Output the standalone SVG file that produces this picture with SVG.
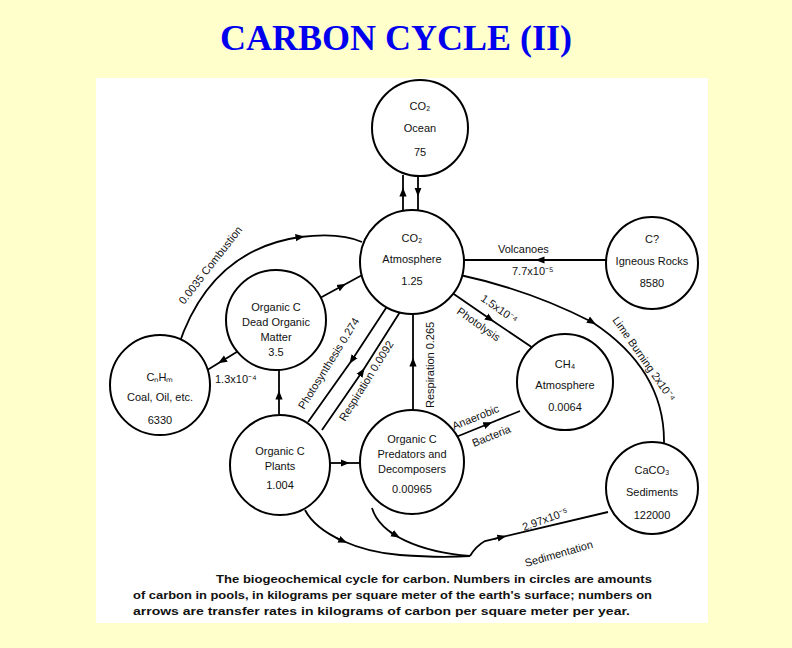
<svg xmlns="http://www.w3.org/2000/svg" width="792" height="648" viewBox="0 0 792 648">
<style>
.n{fill:#fff;stroke:#000;stroke-width:2}
.t{font-family:"Liberation Sans",Arial,sans-serif;font-size:11px;text-anchor:middle;fill:#111}
.l{font-family:"Liberation Sans",Arial,sans-serif;font-size:11px;fill:#111}
.c{fill:none;stroke:#000;stroke-width:1.8}
.cap{font-family:"Liberation Sans",Arial,sans-serif;font-size:10.5px;font-weight:bold;fill:#111}
</style>
<defs><marker id="a" viewBox="0 0 10 10" refX="5" refY="5" markerWidth="5" markerHeight="5" orient="auto"><path d="M0,1 L10,5 L0,9 z" fill="#000"/></marker></defs>
<rect width="792" height="648" fill="#FFFFCC"/>
<rect x="96" y="78" width="612" height="545" fill="#fff"/>
<text x="396" y="50" font-family="Liberation Serif,serif" font-size="36" font-weight="bold" fill="#0000EE" text-anchor="middle">CARBON CYCLE (II)</text>
<g id="connectors">
<path class="c" d="M403,210 L403,192 L403,175" marker-mid="url(#a)"/>
<path class="c" d="M418,175 L418,192 L418,210" marker-mid="url(#a)"/>
<path class="c" d="M178,347 Q210,250 300,237 Q340,232 362,242" marker-mid="url(#a)"/>
<path class="c" d="M320,298 L342,286 L364,274" marker-mid="url(#a)"/>
<path class="c" d="M240,350 L222,361 L204,372" marker-mid="url(#a)"/>
<path class="c" d="M279,414 L279,395 L279,370" marker-mid="url(#a)"/>
<path class="c" d="M388,305 L352,360 L308,422" marker-mid="url(#a)"/>
<path class="c" d="M322,430 L362,372 L400,312" marker-mid="url(#a)"/>
<path class="c" d="M413,410 L413,362 L413,314" marker-mid="url(#a)"/>
<path class="c" d="M330,463 L345,463 L360,463" marker-mid="url(#a)"/>
<path class="c" d="M606,260 L540,260 L463,260" marker-mid="url(#a)"/>
<path class="c" d="M448,290 L490,319 L533,348" marker-mid="url(#a)"/>
<path class="c" d="M460,275 Q530,290 592,322 Q665,370 664,443" marker-mid="url(#a)"/>
<path class="c" d="M456,437 L488,424 L520,411" marker-mid="url(#a)"/>
<path class="c" d="M305,510 C318,535 360,552 400,555 Q440,558 470,556"/>
<path class="c" d="M336,538 L343,541" marker-end="url(#a)"/>
<path class="c" d="M372,508 C380,535 420,552 470,556"/>
<path class="c" d="M390,532 L396,535.5" marker-end="url(#a)"/>
<path class="c" d="M470,556 Q476,546 485,541 L608,512"/>
<path class="c" d="M494,539 L502,537" marker-end="url(#a)"/>
</g>
<g id="labels">
<text class="l" transform="translate(184,305) rotate(-52)">0.0035 Combustion</text>
<text class="l" x="215" y="383">1.3x10⁻⁴</text>
<text class="l" transform="translate(304,410) rotate(-58)">Photosynthesis 0.274</text>
<text class="l" transform="translate(345,422) rotate(-58)">Respiration 0.0092</text>
<text class="l" transform="translate(434,408) rotate(-90)">Respiration 0.265</text>
<text class="l" x="498" y="253">Volcanoes</text>
<text class="l" x="512" y="275">7.7x10⁻⁵</text>
<text class="l" transform="translate(480,300) rotate(35)">1.5x10⁻⁴</text>
<text class="l" transform="translate(456,313) rotate(35)">Photolysis</text>
<text class="l" transform="translate(612,320) rotate(55)">Lime Burning 2x10⁻⁴</text>
<text class="l" transform="translate(454,430) rotate(-22)">Anaerobic</text>
<text class="l" transform="translate(474,447) rotate(-22)">Bacteria</text>
<text class="l" transform="translate(524,531) rotate(-20)">2.97x10⁻⁵</text>
<text class="l" transform="translate(526,567) rotate(-16)">Sedimentation</text>
</g>
<g id="ocean"><circle class="n" cx="420" cy="128" r="48"/><text class="t" x="420" y="110">CO₂</text><text class="t" x="420" y="132">Ocean</text><text class="t" x="420" y="156">75</text></g>
<g id="atm"><circle class="n" cx="412" cy="262" r="52"/><text class="t" x="412" y="242">CO₂</text><text class="t" x="412" y="263">Atmosphere</text><text class="t" x="412" y="285">1.25</text></g>
<g id="igneous"><circle class="n" cx="652" cy="263" r="46"/><text class="t" x="652" y="243">C?</text><text class="t" x="652" y="265">Igneous Rocks</text><text class="t" x="652" y="287">8580</text></g>
<g id="dead"><circle class="n" cx="276" cy="320" r="50"/><text class="t" x="276" y="311">Organic C</text><text class="t" x="276" y="326">Dead Organic</text><text class="t" x="276" y="341">Matter</text><text class="t" x="276" y="356">3.5</text></g>
<g id="coal"><circle class="n" cx="160" cy="385" r="50"/><text class="t" x="160" y="381">CₙHₘ</text><text class="t" x="160" y="401">Coal, Oil, etc.</text><text class="t" x="160" y="424">6330</text></g>
<g id="plants"><circle class="n" cx="280" cy="465" r="50"/><text class="t" x="280" y="455">Organic C</text><text class="t" x="280" y="470">Plants</text><text class="t" x="280" y="489">1.004</text></g>
<g id="pred"><circle class="n" cx="412" cy="462" r="52"/><text class="t" x="412" y="443">Organic C</text><text class="t" x="412" y="458">Predators and</text><text class="t" x="412" y="473">Decomposers</text><text class="t" x="412" y="493">0.00965</text></g>
<g id="ch4"><circle class="n" cx="565" cy="382" r="48"/><text class="t" x="565" y="368">CH₄</text><text class="t" x="565" y="389">Atmosphere</text><text class="t" x="565" y="411">0.0064</text></g>
<g id="caco3"><circle class="n" cx="652" cy="488" r="46"/><text class="t" x="652" y="474">CaCO₃</text><text class="t" x="652" y="496">Sediments</text><text class="t" x="652" y="519">122000</text></g>
<g id="caption">
<text class="cap" x="216" y="583" textLength="436" lengthAdjust="spacingAndGlyphs">The biogeochemical cycle for carbon. Numbers in circles are amounts</text>
<text class="cap" x="133" y="599" textLength="519" lengthAdjust="spacingAndGlyphs">of carbon in pools, in kilograms per square meter of the earth's surface; numbers on</text>
<text class="cap" x="133" y="615" textLength="497" lengthAdjust="spacingAndGlyphs">arrows are transfer rates in kilograms of carbon per square meter per year.</text>
</g>
</svg>
